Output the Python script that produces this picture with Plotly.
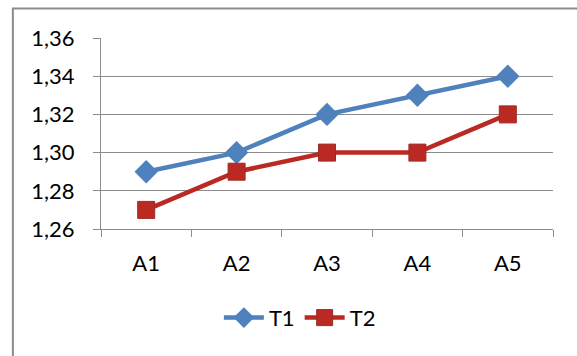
import plotly.graph_objects as go

categories = ["A1", "A2", "A3", "A4", "A5"]
t1_values = [1.29, 1.30, 1.32, 1.33, 1.34]
t2_values = [1.27, 1.29, 1.30, 1.30, 1.32]
y_ticks = [1.26, 1.28, 1.30, 1.32, 1.34, 1.36]

BLUE = "#4F81BD"
RED = "#BA2A22"
GRID = "#8C8C8C"
FONT = "Lato, Carlito, sans-serif"

fig = go.Figure()
fig.add_trace(go.Scatter(
    x=categories, y=t1_values, name="T1", mode="lines+markers",
    line=dict(color=BLUE, width=4.5),
    marker=dict(symbol="diamond", size=18, color=BLUE, line=dict(width=0)),
))
fig.add_trace(go.Scatter(
    x=categories, y=t2_values, name="T2", mode="lines+markers",
    line=dict(color=RED, width=4.5),
    marker=dict(symbol="square", size=17, color=RED, line=dict(width=1, color="#9E2A24")),
))

# outer chart frame
fig.add_shape(type="rect", xref="paper", yref="paper",
              x0=-0.195, x1=1.3, y0=-1.5, y1=1.155,
              line=dict(color="#8C8C8C", width=2), fillcolor="rgba(0,0,0,0)",
              layer="below")

fig.update_layout(
    width=577, height=356,
    margin=dict(l=101, r=24, t=38, b=127),
    paper_bgcolor="white", plot_bgcolor="white",
    separators=", ",
    font=dict(family=FONT, size=22, color="black"),
    showlegend=True,
    legend=dict(orientation="h", x=0.44, xanchor="center", y=-0.465, yanchor="middle",
                font=dict(size=22), itemwidth=40, tracegroupgap=0,
                bgcolor="rgba(0,0,0,0)"),
    xaxis=dict(
        type="category", range=[-0.5, 4.5], tickson="boundaries",
        ticks="outside", ticklen=7, tickcolor=GRID, tickwidth=1,
        showline=True, linecolor=GRID, linewidth=1,
        showgrid=False, ticklabelstandoff=15,
    ),
    yaxis=dict(
        range=[1.26, 1.36], tickvals=y_ticks, tickformat=".2f",
        ticks="outside", ticklen=7, tickcolor=GRID, tickwidth=1,
        showline=True, linecolor=GRID, linewidth=1,
        showgrid=True, gridcolor=GRID, gridwidth=1,
        zeroline=False, ticklabelstandoff=14,
    ),
)

fig.write_html("out.html")
